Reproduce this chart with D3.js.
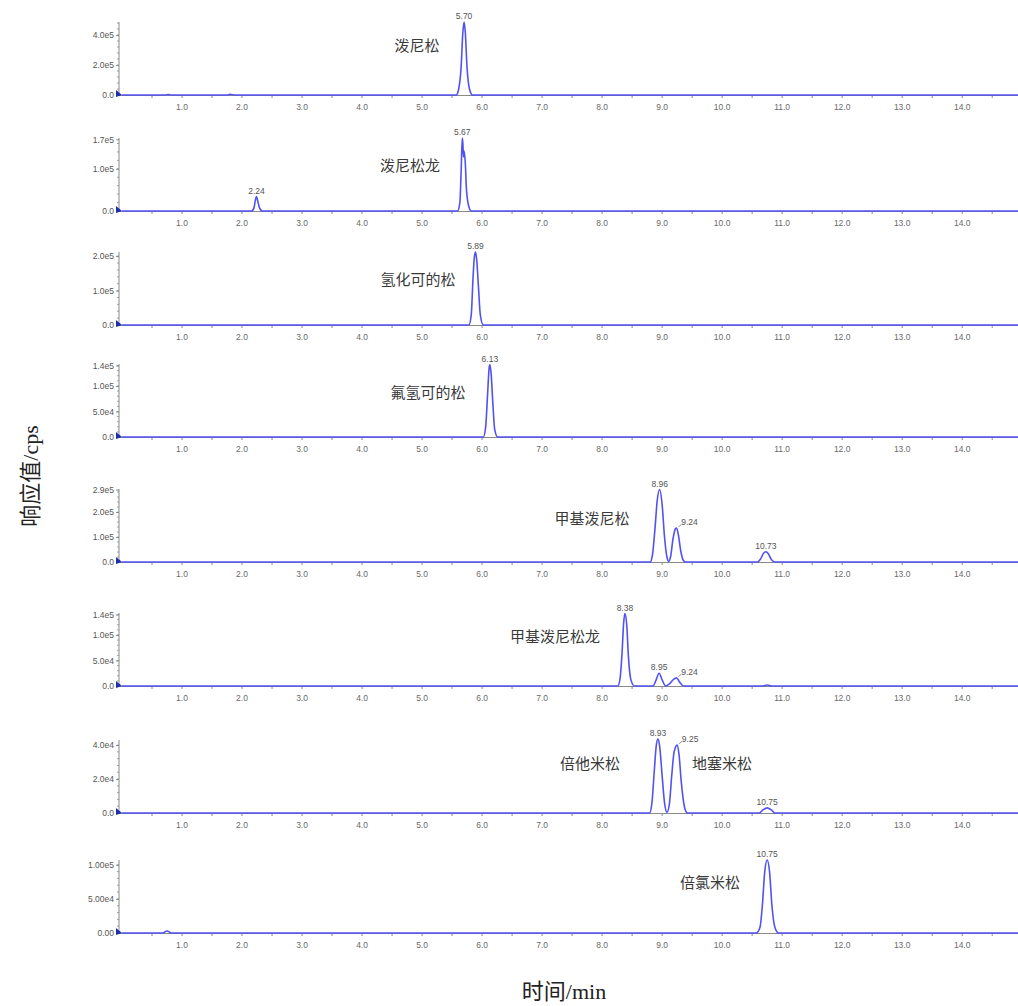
<!DOCTYPE html>
<html><head><meta charset="utf-8">
<script src="https://cdn.jsdelivr.net/npm/d3@7"></script>
<style>
html,body{margin:0;padding:0;background:#fff;}
svg{display:block;}
</style></head>
<body>
<svg id="chart" width="1018" height="1006"></svg>
<script>
// ---------------- DATA ----------------
const compoundNames = ["泼尼松","泼尼松龙","氢化可的松","氟氢可的松","甲基泼尼松","甲基泼尼松龙","倍他米松","倍氯米松"];
const extraNames = ["地塞米松"]; // second label in panel 7
const xTickValues = [1,2,3,4,5,6,7,8,9,10,11,12,13,14];
const xDomainMax = 14.93;

const yMaxes = [487000, 173000, 212000, 143000, 292000, 143000, 43000, 107000];
const yTickValues = [
  [0,200000,400000],
  [0,100000,170000],
  [0,100000,200000],
  [0,50000,100000,140000],
  [0,100000,200000,290000],
  [0,50000,100000,140000],
  [0,20000,40000],
  [0,50000,100000]
];
const yTickLabels = [
  ["0.0","2.0e5","4.0e5"],
  ["0.0","1.0e5","1.7e5"],
  ["0.0","1.0e5","2.0e5"],
  ["0.0","5.0e4","1.0e5","1.4e5"],
  ["0.0","1.0e5","2.0e5","2.9e5"],
  ["0.0","5.0e4","1.0e5","1.4e5"],
  ["0.0","2.0e4","4.0e4"],
  ["0.00","5.00e4","1.00e5"]
];

// chromatogram traces: [time (min), intensity (cps)]
const trace1 = [[0,0],[0.72,0],[0.77,3000],[0.82,0],[1.75,0],[1.80,4000],[1.88,0],
  [5.57,0],[5.61,40000],[5.65,180000],[5.68,420000],[5.70,487000],[5.72,420000],[5.75,180000],[5.79,40000],[5.84,0],[14.93,0]];
const trace2 = [[0,0],[2.16,0],[2.20,8000],[2.22,24000],[2.24,34000],[2.26,25000],[2.29,8000],[2.34,0],
  [5.59,0],[5.63,20000],[5.65,90000],[5.67,173000],[5.68,160000],[5.69,128000],[5.70,142000],[5.72,115000],[5.74,50000],[5.78,10000],[5.82,0],[14.93,0]];
const trace3 = [[0,0],[5.78,0],[5.82,30000],[5.85,140000],[5.87,195000],[5.89,212000],[5.91,190000],[5.94,110000],[5.97,30000],[6.02,0],[14.93,0]];
const trace4 = [[0,0],[6.02,0],[6.06,20000],[6.09,80000],[6.12,138000],[6.13,142000],[6.15,125000],[6.18,65000],[6.21,15000],[6.26,0],[14.93,0]];
const trace5 = [[0,0],[8.80,0],[8.84,30000],[8.88,130000],[8.92,250000],[8.96,290000],[9.00,230000],[9.04,100000],[9.08,20000],[9.11,3000],
  [9.14,20000],[9.18,90000],[9.22,132000],[9.24,136000],[9.27,110000],[9.31,45000],[9.35,8000],[9.39,0],
  [10.59,0],[10.64,12000],[10.69,35000],[10.73,41000],[10.77,33000],[10.82,10000],[10.88,0],[14.93,0]];
const trace6 = [[0,0],[8.26,0],[8.30,15000],[8.33,60000],[8.36,125000],[8.38,142000],[8.41,120000],[8.44,55000],[8.48,12000],[8.54,0],
  [8.85,0],[8.90,12000],[8.95,25000],[9.00,12000],[9.06,0],[9.12,4000],[9.19,13000],[9.24,16000],[9.29,8000],[9.36,0],
  [10.68,0],[10.75,2000],[10.82,0],[14.93,0]];
const trace7 = [[0,0],[8.79,0],[8.83,6000],[8.87,25000],[8.90,39000],[8.93,43500],[8.96,39000],[9.00,22000],[9.04,6000],[9.08,500],
  [9.12,5000],[9.16,22000],[9.20,36000],[9.25,40000],[9.28,35000],[9.32,18000],[9.37,4000],[9.42,0],
  [10.62,0],[10.68,1800],[10.75,3000],[10.82,1800],[10.88,0],[14.93,0]];
const trace8 = [[0,0],[0.68,0],[0.75,3000],[0.82,0],[10.57,0],[10.63,8000],[10.67,40000],[10.71,90000],[10.75,107000],[10.79,90000],[10.83,40000],[10.88,8000],[10.94,0],[14.93,0]];
const traces = [trace1,trace2,trace3,trace4,trace5,trace6,trace7,trace8];

// peak labels: [time, intensity, label]
const peaks1 = [[5.70,487000,"5.70"]];
const peaks2 = [[2.24,34000,"2.24"],[5.67,173000,"5.67"]];
const peaks3 = [[5.89,212000,"5.89"]];
const peaks4 = [[6.13,142000,"6.13"]];
const peaks5 = [[8.96,290000,"8.96"],[9.24,136000,"9.24"],[10.73,41000,"10.73"]];
const peaks6 = [[8.38,142000,"8.38"],[8.95,25000,"8.95"],[9.24,16000,"9.24"]];
const peaks7 = [[8.93,43500,"8.93"],[9.25,40000,"9.25"],[10.75,3000,"10.75"]];
const peaks8 = [[10.75,107000,"10.75"]];
const peakSets = [peaks1,peaks2,peaks3,peaks4,peaks5,peaks6,peaks7,peaks8];

// ---------------- LAYOUT ----------------
const svg = d3.select("#chart");
const panelBase = [95,211,325,437,562,686,813,933];
const panelH = 73;
const x = d3.scaleLinear().domain([0,xDomainMax]).range([122,1018]);
const axisX = 119;
const blue = "#5252f2";
const axisGray = "#8a8a8a";
const tickFont = "'Liberation Sans', Arial, sans-serif";
const cjk = "'Noto Sans CJK SC', sans-serif";
// compound name label positions [cx, cy offset from base]
const namePos = [[417,-44],[410,-40],[418,-40],[428,-39],[592,-38],[555,-44],[590,-44],[710,-45]];

traces.forEach((tr,i)=>{
  const base = panelBase[i];
  const y = d3.scaleLinear().domain([0,yMaxes[i]]).range([base, base-panelH]);
  const g = svg.append("g");

  // x axis line
  g.append("line").attr("x1",axisX).attr("x2",1018).attr("y1",base+0.5).attr("y2",base+0.5)
    .attr("stroke",axisGray).attr("stroke-width",1);
  // x ticks every 0.5
  const xt = d3.range(1, 30).map(k=>k*0.5);
  g.selectAll(".xt").data(xt).enter().append("line")
    .attr("x1",d=>x(d)).attr("x2",d=>x(d)).attr("y1",base+1).attr("y2",base+3)
    .attr("stroke",axisGray).attr("stroke-width",1);
  g.selectAll(".xl").data(xTickValues).enter().append("text")
    .attr("x",d=>x(d)).attr("y",base+15).attr("text-anchor","middle")
    .attr("font-family",tickFont).attr("font-size",8.5).attr("fill","#6a6a6a")
    .text(d=>d3.format(".1f")(d));

  // y axis
  const yAxis = d3.axisLeft(y).tickValues(yTickValues[i]).tickSize(3).tickPadding(2)
    .tickFormat((d,k)=>yTickLabels[i][k]);
  const ga = g.append("g").attr("transform",`translate(${axisX},0)`).call(yAxis);
  ga.select(".domain").attr("stroke",axisGray).attr("d",`M0,${base}V${base-panelH}`);
  ga.selectAll(".tick line").attr("stroke",axisGray);
  ga.selectAll("text").attr("font-family",tickFont).attr("font-size",8.5).attr("fill","#555");
  // minor ticks
  const step = yTickValues[i][1]/5;
  const minors = d3.range(step, yMaxes[i], step);
  g.selectAll(".ym").data(minors).enter().append("line")
    .attr("x1",axisX-2).attr("x2",axisX).attr("y1",d=>y(d)).attr("y2",d=>y(d))
    .attr("stroke",axisGray).attr("stroke-width",0.8);

  // trace
  const line = d3.line().x(d=>x(d[0])).y(d=>y(d[1])).curve(d3.curveMonotoneX);
  g.append("path").datum(tr).attr("d",line).attr("fill","none")
    .attr("stroke",blue).attr("stroke-width",1.6).attr("stroke-linejoin","round");

  // origin marker
  g.append("path").attr("d",`M${axisX-3},${base-5}L${axisX+3},${base}L${axisX-3},${base+2}Z`)
    .attr("fill","#1f2fa8");

  // peak labels
  peakSets[i].forEach(p=>{
    const offset = (p[2]==="9.24"||p[2]==="9.25") ? 13 : 0;
    const px = x(p[0]), py = y(p[1]);
    if(offset){
      g.append("line").attr("x1",px+2).attr("y1",py-1).attr("x2",px+5).attr("y2",py-4)
        .attr("stroke","#777").attr("stroke-width",0.8);
    }
    g.append("text").attr("x",px+offset).attr("y",py-3).attr("text-anchor","middle")
      .attr("font-family",tickFont).attr("font-size",8.5).attr("fill","#555").text(p[2]);
  });

  // compound name
  g.append("text").attr("x",namePos[i][0]).attr("y",base+namePos[i][1]).attr("text-anchor","middle")
    .attr("font-family",cjk).attr("font-size",15).attr("fill","#3a3a3a").text(compoundNames[i]);
  if(i===6){
    g.append("text").attr("x",722).attr("y",base-44).attr("text-anchor","middle")
      .attr("font-family",cjk).attr("font-size",15).attr("fill","#3a3a3a").text(extraNames[0]);
  }
});

// axis titles
svg.append("text").attr("transform","translate(38,476) rotate(-90)").attr("text-anchor","middle")
  .attr("font-family","'Liberation Serif','Noto Sans CJK SC',serif").attr("font-size",22).attr("fill","#222")
  .text("响应值/cps");
svg.append("text").attr("x",564).attr("y",999).attr("text-anchor","middle")
  .attr("font-family","'Liberation Serif','Noto Sans CJK SC',serif").attr("font-size",22).attr("fill","#222")
  .text("时间/min");
</script>
</body></html>
